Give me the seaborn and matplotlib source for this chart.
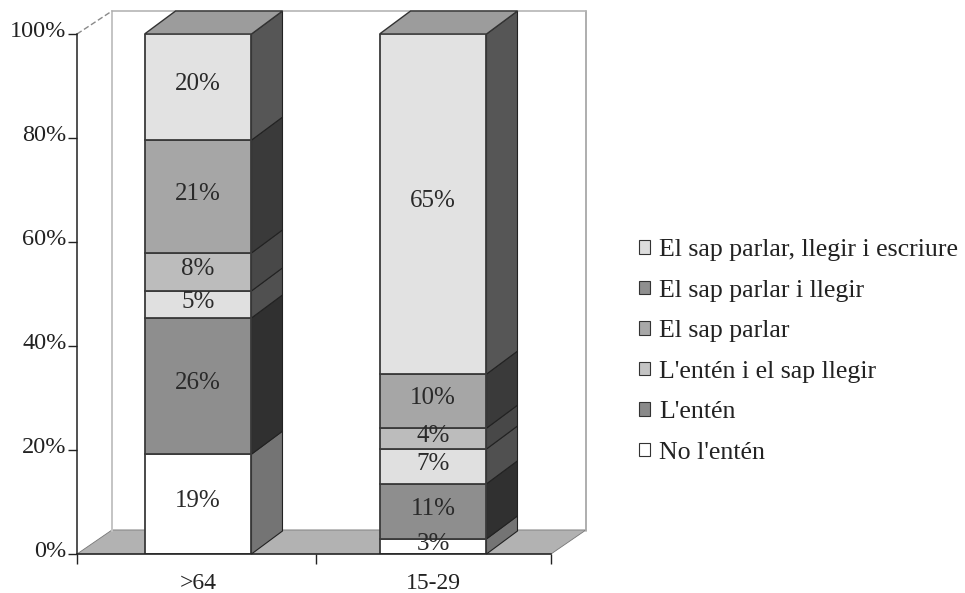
import matplotlib
matplotlib.use("Agg")
import matplotlib.pyplot as plt
import seaborn as sns
import numpy as np
from matplotlib.patches import Polygon, Patch
from matplotlib.transforms import ScaledTranslation

categories = [">64", "15-29"]
series = ["No l'entén", "L'entén", "L'entén i el sap llegir", "El sap parlar",
          "El sap parlar i llegir", "El sap parlar, llegir i escriure"]
old_vals = [19.2, 26.2, 5.2, 7.3, 21.7, 20.4]
young_vals = [2.9, 10.6, 6.7, 4.0, 10.4, 65.4]
old_labels = ["19%", "26%", "5%", "8%", "21%", "20%"]
young_labels = ["3%", "11%", "7%", "4%", "10%", "65%"]
face_cols = ["#ffffff", "#8e8e8e", "#e0e0e0", "#bcbcbc", "#a6a6a6", "#e2e2e2"]
side_cols = ["#747474", "#303030", "#505050", "#484848", "#3a3a3a", "#565656"]
legend_cols = ["#ffffff", "#8a8a8a", "#c4c4c4", "#a8a8a8", "#8f8f8f", "#dddddd"]
yticks = [0, 20, 40, 60, 80, 100]
ytick_labels = ["0%", "20%", "40%", "60%", "80%", "100%"]

W, H = 965, 593
sns.set_theme(style="white")
plt.rcParams["font.family"] = ["Liberation Serif", "DejaVu Serif"]
fig = plt.figure(figsize=(W / 100, H / 100), dpi=100)
# axes box in pixels: left 77, right 551, 0% at 554, 100% at 34
ax = fig.add_axes([77 / W, 1 - 554 / H, 474 / W, 520 / H])
WIDTH = 0.455
DX, DY = 31 / 235, 23 / 5.2
WALL = 0.149
edge = "#3a3a3a"
x0, x1 = -0.515, 1.502

for i, (vals, labels) in enumerate(zip([old_vals, young_vals], [old_labels, young_labels])):
    bottoms = np.concatenate([[0], np.cumsum(vals)[:-1]])
    xr = i + WIDTH / 2
    xl = i - WIDTH / 2
    for b, v, fc, sc, lab in zip(bottoms, vals, face_cols, side_cols, labels):
        sns.barplot(x=[i], y=[v], ax=ax, native_scale=True, width=WIDTH, bottom=b, color=fc,
                    saturation=1, edgecolor=edge, linewidth=1.3, zorder=3)
        t = b + v
        ax.add_patch(Polygon([(xr, b), (xr + DX, b + DY), (xr + DX, t + DY), (xr, t)], closed=True,
                             fc=sc, ec="#222222", lw=0.8, clip_on=False, zorder=2.5))
        ax.annotate(lab, (i, b + v / 2), xytext=(0, 2), textcoords="offset points", ha="center",
                    va="center", fontsize=18, color="#2a2a2a", zorder=5)
    top = bottoms[-1] + vals[-1]
    ax.add_patch(Polygon([(xl, top), (xl + DX, top + DY), (xr + DX, top + DY), (xr, top)], closed=True,
                         fc="#9c9c9c", ec="#333333", lw=1.0, clip_on=False, zorder=2.5))

ax.set_xlim(x0, x1)
ax.set_ylim(0, 100)

# floor and back wall
ax.add_patch(Polygon([(x0, 0), (x0 + WALL, DY + 0.2), (x1 + WALL, DY + 0.2), (x1, 0)],
                     closed=True, fc="#b2b2b2", ec="#777777", lw=0.6, clip_on=False, zorder=1))
ax.plot([x0 + WALL, x0 + WALL], [DY, 100 + DY], color="#c4c4c4", lw=1.4, clip_on=False, zorder=1)
ax.plot([x1 + WALL, x1 + WALL], [DY, 100 + DY], color="#a8a8a8", lw=1.3, clip_on=False, zorder=1)
ax.plot([x0 + WALL, x1 + WALL], [100 + DY, 100 + DY], color="#b5b5b5", lw=1.2, clip_on=False, zorder=1)
ax.plot([x0, x0 + WALL], [100, 100 + DY], color="#8a8a8a", lw=1.0, ls=(0, (4, 2)),
        clip_on=False, zorder=1)

# axes
sns.despine(ax=ax, top=True, right=True)
for s in ("left", "bottom"):
    ax.spines[s].set_color("#222222")
    ax.spines[s].set_linewidth(1.1)
    ax.spines[s].set_zorder(6)
ax.set_yticks(yticks)
ax.set_yticklabels(ytick_labels, fontsize=17.5, color="#222222")
ax.tick_params(axis="y", left=True, length=6.5, width=1.0, color="#222222", pad=1)
shift = ScaledTranslation(0, 3.5 / 72, fig.dpi_scale_trans)
for lab in ax.get_yticklabels():
    lab.set_transform(lab.get_transform() + shift)
ax.set_xticks([0, 1])
ax.set_xticklabels(categories, fontsize=17, color="#222222")
ax.set_xticks([x0, 0.5, x1], minor=True)
ax.tick_params(axis="x", which="major", bottom=False, length=0, pad=14)
ax.tick_params(axis="x", which="minor", bottom=True, length=7, width=1.0, color="#222222")
ax.set_xlabel("")
ax.set_ylabel("")

handles = [Patch(fc=c, ec="#333333", lw=0.8, label=s) for c, s in zip(legend_cols, series)][::-1]
fig.legend(handles=handles, loc="center left", bbox_to_anchor=(639 / W, 1 - 351.5 / H), frameon=False,
           fontsize=18.6, labelcolor="#222222", handlelength=0.42, handleheight=0.42, handletextpad=0.35,
           labelspacing=0.715, borderpad=0, borderaxespad=0)

fig.savefig("out.png", dpi=100)
